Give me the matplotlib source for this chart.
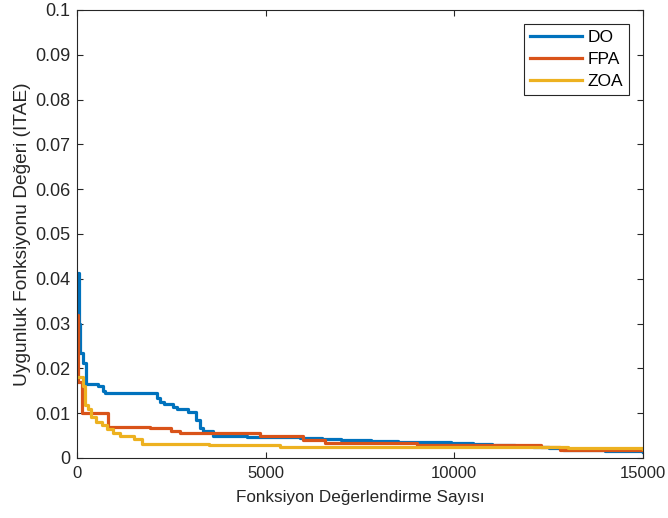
import matplotlib.pyplot as plt

plt.rcParams['font.family'] = ['Liberation Sans', 'DejaVu Sans']

# convergence curves (evaluation count, ITAE)
do_x = [0, 40, 80, 150, 250, 560, 690, 740, 2110, 2200, 2300, 2550, 2650, 2950, 3150, 3250, 3350,
        3610, 4500, 5900, 6500, 7000, 7800, 8500, 9000, 9900, 10500, 11000, 11600, 12090, 12500,
        12880, 14000, 15000]
do_y = [0.0412, 0.030, 0.0234, 0.0212, 0.0165, 0.0160, 0.0150, 0.0144, 0.0135, 0.0126, 0.0120, 0.0113,
        0.0110, 0.0103, 0.0085, 0.0068, 0.0060, 0.0050, 0.0047, 0.0044, 0.0042, 0.0040, 0.0038,
        0.0036, 0.0035, 0.0033, 0.0031, 0.0029, 0.0027, 0.0025, 0.0022, 0.0017, 0.0015, 0.0014]

fpa_x = [0, 30, 124, 830, 1935, 2500, 2730, 4850, 6000, 6570, 9000, 12300, 12800, 15000]
fpa_y = [0.0320, 0.0170, 0.0101, 0.0070, 0.0066, 0.0060, 0.0056, 0.0048, 0.0040, 0.0033, 0.0030,
         0.0024, 0.0018, 0.0018]

zoa_x = [0, 160, 200, 290, 380, 510, 650, 800, 960, 1130, 1500, 1710, 3500, 5380, 10000, 13000, 15000]
zoa_y = [0.0181, 0.0160, 0.0118, 0.0110, 0.0092, 0.0081, 0.0073, 0.0064, 0.0056, 0.0048, 0.0043, 0.0031,
         0.0028, 0.0025, 0.0024, 0.0022, 0.0021]

fig = plt.figure(figsize=(6.68, 5.18), dpi=100)
ax = fig.add_axes([77/668, 60/518, 566/668, 448/518])

ax.plot(do_x, do_y, drawstyle='steps-post', color='#0072BD', lw=2.3, label='DO')
ax.plot(fpa_x, fpa_y, drawstyle='steps-post', color='#D95319', lw=2.3, label='FPA')
ax.plot(zoa_x, zoa_y, drawstyle='steps-post', color='#EDB120', lw=2.3, label='ZOA')

ax.set_xlim(0, 15000)
ax.set_ylim(0, 0.1)
ax.set_xticks([0, 5000, 10000, 15000])
ax.set_yticks([i / 100 for i in range(11)])
ax.set_yticklabels(['0'] + [f'{i/100:g}' for i in range(1, 11)])
ax.tick_params(direction='in', top=True, right=True, colors='#262626', length=4)
ax.tick_params(axis='x', labelsize=12, pad=6)
ax.tick_params(axis='y', labelsize=13, pad=5)
for s in ax.spines.values():
    s.set_color('#262626')
    s.set_linewidth(0.8)

ax.set_xlabel('Fonksiyon Değerlendirme Sayısı', fontsize=12.3, color='#262626', labelpad=6)
ax.set_ylabel('Uygunluk Fonksiyonu Değeri (ITAE)', fontsize=13.8, color='#262626', labelpad=3)

leg = ax.legend(loc='upper right', fontsize=12.5, fancybox=False, framealpha=1,
                edgecolor='#262626', handlelength=3.0, borderaxespad=0.8,
                handletextpad=0.3, labelspacing=0.4, borderpad=0.35)
leg.get_frame().set_linewidth(0.8)

fig.savefig('out.png', dpi=100)
